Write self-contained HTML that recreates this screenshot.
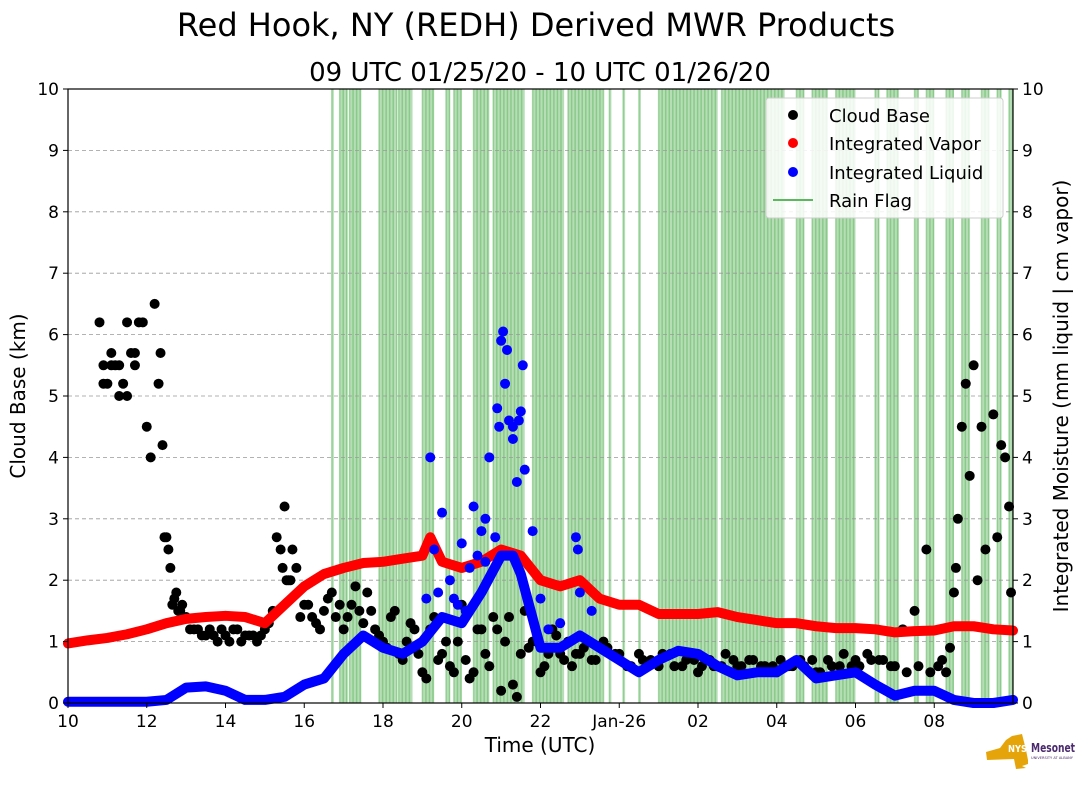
<!DOCTYPE html>
<html><head><meta charset="utf-8">
<style>
html,body{margin:0;padding:0;background:#fff;}
svg text{font-family:"DejaVu Sans","Liberation Sans",sans-serif;}
</style></head>
<body>
<svg id="chart" width="1089" height="804" viewBox="0 0 1089 804" xmlns="http://www.w3.org/2000/svg">
<text x="536" y="36" font-size="32" text-anchor="middle">Red Hook, NY (REDH) Derived MWR Products</text>
<text x="540" y="81" font-size="26" text-anchor="middle">09 UTC 01/25/20 - 10 UTC 01/26/20</text>
<g id="rain"></g>
<g id="grid"></g>
<g id="marks"></g>
<rect x="68" y="89" width="945" height="614" fill="none" stroke="#000" stroke-width="1.2"/>
<g id="axes"></g>
<text x="540" y="752" font-size="20" text-anchor="middle">Time (UTC)</text>
<text transform="translate(25,396) rotate(-90)" font-size="20" text-anchor="middle">Cloud Base (km)</text>
<text transform="translate(1068,396) rotate(-90)" font-size="20" text-anchor="middle">Integrated Moisture (mm liquid | cm vapor)</text>
<g>
<rect x="766" y="98" width="237" height="120" rx="3" fill="#fff" fill-opacity="0.85" stroke="#ccc"/>
<g><circle cx="793" cy="115" r="5" fill="#000"/><text x="829" y="122" font-size="18">Cloud Base</text></g>
<g><circle cx="793" cy="143" r="5" fill="red"/><text x="829" y="150" font-size="18">Integrated Vapor</text></g>
<g><circle cx="793" cy="172" r="5" fill="blue"/><text x="829" y="179" font-size="18">Integrated Liquid</text></g>
<g><line x1="773" y1="200" x2="813" y2="200" stroke="#5cb85c" stroke-width="2"/><text x="829" y="207" font-size="18">Rain Flag</text></g>
</g>
<g>
<path d="M986 752 L1000 748 L1006 740 L1012 736 L1022 734 L1026 750 L1028 760 L1028 764 L1022 766 L1026 768 L1016 769 L1014 759 L987 760 Z" fill="#e5a50a"/>
<text x="1008" y="752" font-size="10" font-weight="bold" fill="#fff" textLength="19" lengthAdjust="spacingAndGlyphs">NYS</text>
<text x="1031" y="752" font-size="12" font-weight="bold" fill="#4b2a6e" textLength="44" lengthAdjust="spacingAndGlyphs">Mesonet</text>
<text x="1031" y="759" font-size="3.5" fill="#4b2a6e" textLength="42" lengthAdjust="spacingAndGlyphs">UNIVERSITY AT ALBANY</text>
</g>
</svg>
<script>
// data
const xTickLabels=["10","12","14","16","18","20","22","Jan-26","02","04","06","08"];
const yTicks=[0,1,2,3,4,5,6,7,8,9,10];
const rainIntervals=[[16.7,16.75],[16.9,17.1],[17.15,17.45],[17.9,18.35],[18.4,18.75],[19.0,19.3],[19.6,19.7],[19.8,20.0],[20.3,20.7],[20.8,21.6],[21.8,22.6],[22.7,23.6],[23.75,23.8],[24.1,24.15],[24.5,24.55],[25.0,26.5],[26.6,28.2],[28.5,28.7],[28.9,29.3],[29.5,30.0],[30.5,30.6],[30.8,31.1],[31.5,31.6],[31.8,32.0],[32.3,32.5],[32.7,32.9],[33.2,33.4],[33.6,33.7],[33.9,34.0]];
const vaporT=[10,10.5,11,11.5,12,12.5,13,13.5,14,14.5,15,15.5,16,16.5,17,17.5,18,18.5,19,19.2,19.5,20,20.5,21,21.5,22,22.5,23,23.5,24,24.5,25,25.5,26,26.5,27,27.5,28,28.5,29,29.5,30,30.5,31,31.5,32,32.5,33,33.5,34];
const vaporV=[0.97,1.02,1.06,1.12,1.2,1.3,1.37,1.4,1.42,1.4,1.3,1.6,1.9,2.1,2.2,2.28,2.3,2.35,2.4,2.7,2.3,2.2,2.3,2.5,2.4,2.0,1.9,2.0,1.7,1.6,1.6,1.45,1.45,1.45,1.48,1.4,1.35,1.3,1.3,1.25,1.22,1.22,1.2,1.15,1.17,1.18,1.25,1.25,1.2,1.18];
const liquidT=[10,11,12,12.5,13,13.5,14,14.5,15,15.5,16,16.5,17,17.5,18,18.5,19,19.5,20,20.5,21,21.3,21.5,22,22.5,23,23.5,24,24.5,25,25.5,26,26.5,27,27.5,28,28.5,29,29.5,30,30.5,31,31.5,32,32.5,33,33.5,34];
const liquidV=[0.02,0.02,0.02,0.05,0.25,0.27,0.2,0.05,0.05,0.1,0.3,0.4,0.8,1.1,0.9,0.8,1.0,1.4,1.3,1.8,2.4,2.4,2.1,0.9,0.9,1.1,0.9,0.7,0.5,0.7,0.85,0.8,0.6,0.45,0.5,0.5,0.7,0.4,0.45,0.5,0.3,0.12,0.2,0.2,0.05,0.0,0.0,0.05];
const liquidScatT=[19.2,19.3,19.5,19.7,19.8,20.0,20.2,20.3,20.5,20.7,20.9,21.0,21.05,21.1,21.2,21.3,21.4,21.5,21.6,21.8,22.0,22.5,22.9,23.0,20.4,20.6,19.9,21.3,22.2,23.3,20.95,21.15,21.45,21.55,20.85,19.1,19.4,20.1,20.6,22.95];
const liquidScatV=[4.0,2.5,3.1,2.0,1.7,2.6,2.2,3.2,2.8,4.0,4.8,5.9,6.05,5.2,4.6,4.3,3.6,4.75,3.8,2.8,1.7,1.3,2.7,1.8,2.4,3.0,1.6,4.5,1.2,1.5,4.5,5.75,4.6,5.5,2.7,1.7,1.8,1.5,2.3,2.5];
const cloudT=[10.8,10.9,11,11.1,11.2,11.3,11.4,11.5,11.6,11.7,11.8,11.9,12,12.1,12.2,12.3,12.35,12.4,12.5,12.6,12.7,12.8,12.9,13,13.2,13.4,13.6,13.8,14,14.2,14.4,14.6,14.8,15,15.2,15.3,15.4,15.5,15.6,15.7,15.8,15.9,16,16.2,16.4,16.6,16.8,17,17.2,17.4,17.6,17.8,18,18.2,18.4,18.6,18.8,19,19.2,19.4,19.6,19.8,20,20.2,20.4,20.6,20.8,21,21.2,21.4,21.6,21.8,22,22.2,22.4,22.6,22.8,23,23.3,23.6,24,24.3,24.6,25,25.3,25.6,26,26.3,26.6,27,27.3,27.6,28,28.3,28.6,29,29.3,29.6,30,30.3,30.6,30.9,31.2,31.5,31.8,32.1,32.3,32.5,32.6,32.7,32.8,32.9,33.0,33.2,33.5,33.6,33.7,33.8,33.9,
10.9,11.1,11.3,11.5,11.7,12.45,12.55,12.65,12.75,12.85,13.1,13.3,13.5,13.7,13.9,14.1,14.3,14.5,14.7,14.9,15.1,15.45,15.55,15.65,16.1,16.3,16.5,16.7,16.9,17.1,17.3,17.5,17.7,17.9,18.1,18.3,18.5,18.7,18.9,19.1,19.3,19.5,19.7,19.9,20.1,20.3,20.5,20.7,20.9,21.1,21.3,21.5,21.7,21.9,22.1,22.3,22.5,22.7,22.9,23.1,23.4,23.7,23.9,24.2,24.5,24.8,25.1,25.4,25.7,25.9,26.1,26.4,26.7,26.9,27.1,27.4,27.7,27.9,28.1,28.4,28.7,28.9,29.1,29.4,29.7,29.9,30.1,30.4,30.7,31.0,31.3,31.6,31.9,32.2,32.4,32.55,33.1,33.3,33.95];
const cloudV=[6.2,5.5,5.2,5.7,5.5,5.0,5.2,6.2,5.7,5.5,6.2,6.2,4.5,4.0,6.5,5.2,5.7,4.2,2.7,2.2,1.7,1.5,1.6,1.4,1.2,1.1,1.2,1.0,1.1,1.2,1.0,1.1,1.0,1.2,1.5,2.7,2.5,3.2,2.0,2.5,2.2,1.4,1.6,1.4,1.2,1.7,1.4,1.2,1.6,1.5,1.8,1.2,1.0,1.4,0.8,1.0,1.2,0.5,1.2,0.7,1.0,0.5,1.6,0.4,1.2,0.8,1.4,0.2,1.4,0.1,1.5,1.0,0.5,0.8,1.1,0.7,0.6,0.8,0.7,1.0,0.8,0.6,0.7,0.6,0.8,0.6,0.5,0.7,0.6,0.6,0.7,0.6,0.5,0.6,0.7,0.5,0.7,0.6,0.7,0.8,0.7,0.6,1.2,1.5,2.5,0.6,0.5,1.8,3.0,4.5,5.2,3.7,5.5,4.5,4.7,2.7,4.2,4.0,3.2,
5.2,5.5,5.5,5.0,5.7,2.7,2.5,1.6,1.8,1.5,1.2,1.2,1.1,1.1,1.2,1.0,1.2,1.1,1.1,1.1,1.3,2.2,2.0,2.0,1.6,1.3,1.5,1.8,1.6,1.4,1.9,1.3,1.5,1.1,0.9,1.5,0.7,1.3,0.8,0.4,1.4,0.8,0.6,1.0,0.7,0.5,1.2,0.6,1.2,1.0,0.3,0.8,0.9,1.0,0.6,1.2,0.8,1.0,0.8,0.9,0.7,0.9,0.8,0.6,0.8,0.7,0.8,0.6,0.7,0.7,0.6,0.6,0.8,0.7,0.6,0.7,0.6,0.6,0.7,0.6,0.6,0.7,0.5,0.6,0.8,0.6,0.6,0.7,0.7,0.6,0.5,0.6,0.5,0.7,0.9,2.2,2.0,2.5,1.8];
// scales
const X0=68,X1=1013,Y0=703,Y1=89;
const xs=t=>X0+(t-10)*(X1-X0)/24;
const ys=v=>Y0-v*(Y0-Y1)/10;
const NS="http://www.w3.org/2000/svg";
function mk(tag,attrs,parent){const e=document.createElementNS(NS,tag);for(const k in attrs)e.setAttribute(k,attrs[k]);parent.appendChild(e);return e;}
const rain=document.getElementById('rain'),grid=document.getElementById('grid'),marks=document.getElementById('marks'),axes=document.getElementById('axes');
rainIntervals.forEach(r=>{
  const bg=mk('rect',{x:xs(r[0]),y:Y1,width:Math.max(1,xs(r[1])-xs(r[0])),height:Y0-Y1,fill:'#9fd29f',opacity:0.75},rain);
  
  
  for(let t=r[0];t<=r[1]+1e-6;t+=0.09){
    const e=mk('line',{x1:xs(t),x2:xs(t),y1:Y1,y2:Y0,stroke:'#5cb85c','stroke-width':1.5,opacity:0.5},rain);
    
    
  }
});
yTicks.forEach(v=>{
  if(v>0&&v<10){const g=mk('line',{x1:X0,x2:X1,y1:ys(v),y2:ys(v),stroke:'#999','stroke-dasharray':'4,3','stroke-width':0.8},grid);
  
  }
  mk('line',{x1:X0-5,x2:X0,y1:ys(v),y2:ys(v),stroke:'#000'},axes);
  mk('line',{x1:X1,x2:X1+5,y1:ys(v),y2:ys(v),stroke:'#000'},axes);
  const l=mk('text',{x:X0-9,y:ys(v)+6,'font-size':17,'text-anchor':'end'},axes);l.textContent=v;
  
  
  const r=mk('text',{x:X1+9,y:ys(v)+6,'font-size':17},axes);r.textContent=v;
  
  
});
xTickLabels.forEach((s,i)=>{
  const x=xs(10+i*2);
  mk('line',{x1:x,x2:x,y1:Y0,y2:Y0+5,stroke:'#000'},axes);
  const t=mk('text',{x:x,y:Y0+24,'font-size':17,'text-anchor':'middle'},axes);t.textContent=s;
  
  
});
function series(T,V,color,name){
  const pts=T.map((t,i)=>xs(t)+','+ys(V[i])).join(' ');
  const p=mk('polyline',{points:pts,fill:'none',stroke:color,'stroke-width':10,'stroke-linejoin':'round','stroke-linecap':'round'},marks);
  
  
}
function dots(T,V,color,name){
  T.forEach((t,i)=>{const c=mk('circle',{cx:xs(t),cy:ys(V[i]),r:5,fill:color},marks);
  
  });
}
dots(cloudT,cloudV,'#000','cloud-base');
series(vaporT,vaporV,'red','integrated-vapor');
series(liquidT,liquidV,'blue','integrated-liquid');
dots(liquidScatT,liquidScatV,'blue','integrated-liquid');
</script>
</body></html>
